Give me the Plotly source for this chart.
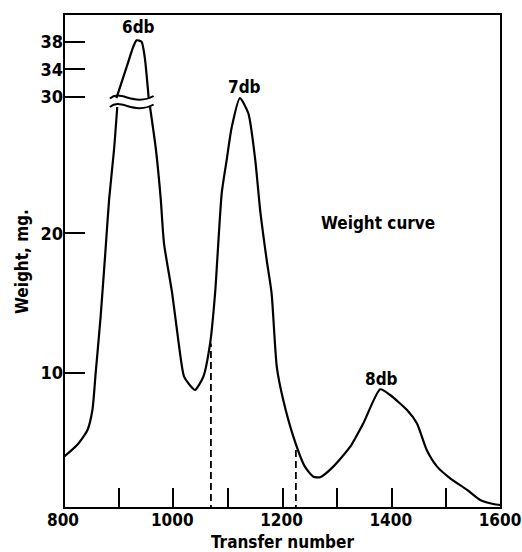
import plotly.graph_objects as go

# ---- data ----
# main weight curve, lower scale (the 6db peak is broken above ~29)
transfer = [800, 824, 843, 852, 858, 867, 876, 882.5, 891.6, 897.5, None,
            957.5, 968, 977, 983, 998, 1011, 1020, 1035, 1040, 1055, 1067.5,
            1076.6, 1088.8, 1098, 1107, 1122, 1137.5, 1150, 1159, 1171, 1180,
            1189.6, 1201.6, 1220, 1241, 1256.6, 1269, 1293, 1324, 1348, 1379,
            1397, 1428, 1446, 1464, 1483, 1507, 1538, 1562, 1586, 1600]
weight = [3.97, 4.81, 5.89, 7.32, 9.98, 14.0, 18.8, 22.4, 26.0, 29.06, None,
          29.06, 26.1, 22.5, 19.3, 15.7, 11.8, 9.7, 8.9, 8.76, 9.7, 12.1,
          15.7, 22.9, 25.3, 27.6, 29.7, 28.6, 25.3, 21.7, 18.1, 15.7,
          10.4, 8.0, 5.4, 3.26, 2.54, 2.5, 3.26, 4.69, 6.37, 8.81,
          8.4, 7.32, 6.37, 4.45, 3.26, 2.42, 1.59, 0.87, 0.58, 0.5]

# top of the 6db peak, upper (compressed) scale
peak_transfer = [896, 915, 927, 933, 942, 948, 955]
peak_weight = [29.8, 34.4, 37.3, 38.2, 38.0, 35.6, 29.8]

# dashed cut lines
cut_transfer = [1069, 1224.5]
cut_weight = [12.1, 4.7]

x_tickvals = [800, 900, 1000, 1100, 1200, 1300, 1400, 1500, 1600]
x_ticktext = ["800", "", "1000", "", "1200", "", "1400", "", "1600"]
y_low_ticks = [10, 20]
y_high_ticks = [30, 34, 38]

peak_names = ["6db", "7db", "8db"]
peak_label_x = [937, 1130, 1381]
peak_label_row = [27, 87, 379]   # window pixel rows of the label centres

FONT = "Liberation Sans Narrow, DejaVu Sans Condensed, Arial Narrow, sans-serif"
BLACK = "#000000"

W, H = 522, 552
ML, MR, MT, MB = 64, 21, 14, 44
PH = H - MT - MB
PW = W - ML - MR


def py2paper(p):
    return (H - MB - p) / PH


def px2paper(p):
    return (p - ML) / PW


up_bottom = py2paper(100)

fig = go.Figure()

fig.add_trace(go.Scatter(x=transfer, y=weight, mode="lines",
                         line=dict(color=BLACK, width=2.2, shape="spline", smoothing=0.6),
                         xaxis="x", yaxis="y", hoverinfo="skip", showlegend=False))
fig.add_trace(go.Scatter(x=peak_transfer, y=peak_weight, mode="lines",
                         line=dict(color=BLACK, width=2.2, shape="spline", smoothing=0.6),
                         xaxis="x", yaxis="y2", hoverinfo="skip", showlegend=False))
for cx, cy in zip(cut_transfer, cut_weight):
    fig.add_trace(go.Scatter(x=[cx, cx], y=[0, cy], mode="lines",
                             line=dict(color=BLACK, width=1.8, dash="7px,4px"),
                             xaxis="x", yaxis="y", hoverinfo="skip", showlegend=False))

ytickfont = dict(family=FONT, size=18, color=BLACK, weight="bold")
xtickfont = dict(family=FONT, size=17, color=BLACK, weight="bold")

fig.update_layout(
    width=W, height=H,
    margin=dict(l=ML, r=MR, t=MT, b=MB, autoexpand=False),
    paper_bgcolor="white", plot_bgcolor="rgba(0,0,0,0)",
    xaxis=dict(range=[800, 1600], tickvals=x_tickvals, ticktext=x_ticktext,
               ticks="inside", ticklen=20, tickwidth=2, tickcolor=BLACK,
               showgrid=False, zeroline=False, showline=False, anchor="y",
               automargin=False, ticklabeloverflow="allow", ticklabelshift=-1,
               tickfont=xtickfont,
               title=dict(text="Transfer number", standoff=8,
                          font=dict(family=FONT, size=17, color=BLACK, weight="bold"))),
    yaxis=dict(domain=[0, 1], range=[0.294, 35.73], tickvals=y_low_ticks,
               ticks="inside", ticklen=21, tickwidth=2, tickcolor=BLACK,
               showgrid=False, zeroline=False, showline=False, anchor="x",
               automargin=False, ticklabeloverflow="allow", tickfont=ytickfont),
    yaxis2=dict(domain=[up_bottom, 1], range=[29.52, 42.03], tickvals=y_high_ticks,
                ticks="inside", ticklen=21, tickwidth=2, tickcolor=BLACK,
                showgrid=False, zeroline=False, showline=False, anchor="x",
                automargin=False, ticklabeloverflow="allow", tickfont=ytickfont),
)

# frame
fig.add_shape(type="rect", xref="paper", yref="paper", x0=0, x1=1, y0=0, y1=1,
              line=dict(color=BLACK, width=2), layer="above")

# axis-break wavy marks across the 6db peak
a = 1.0 / PH


def wave(yc):
    return (f"M 884,{yc - 0.5 * a} C 904,{yc + 9 * a} 928,{yc - 9 * a} 964,{yc + 2 * a}")


for p in (98, 106.5):
    fig.add_shape(type="path", xref="x", yref="paper", path=wave(py2paper(p)),
                  line=dict(color=BLACK, width=2))

for name, lx, row in zip(peak_names, peak_label_x, peak_label_row):
    fig.add_annotation(x=lx, y=py2paper(row), xref="x", yref="paper", text=name,
                       showarrow=False, xanchor="center", yanchor="middle",
                       font=dict(family=FONT, size=17, color=BLACK, weight="bold"))

fig.add_annotation(x=1375, y=py2paper(223), xref="x", yref="paper", text="Weight curve",
                   showarrow=False, xanchor="center", yanchor="middle",
                   font=dict(family=FONT, size=17, color=BLACK, weight="bold"))

fig.add_annotation(x=px2paper(22), y=py2paper(262), xref="paper", yref="paper",
                   text="Weight, mg.", textangle=-90, showarrow=False,
                   xanchor="center", yanchor="middle",
                   font=dict(family=FONT, size=17, color=BLACK, weight="bold"))

# remove the default page margin so the figure sits at the window origin
fig.write_html("out.html", config={"displayModeBar": False},
               post_script="document.body.style.margin='0';document.body.style.overflow='hidden';")
